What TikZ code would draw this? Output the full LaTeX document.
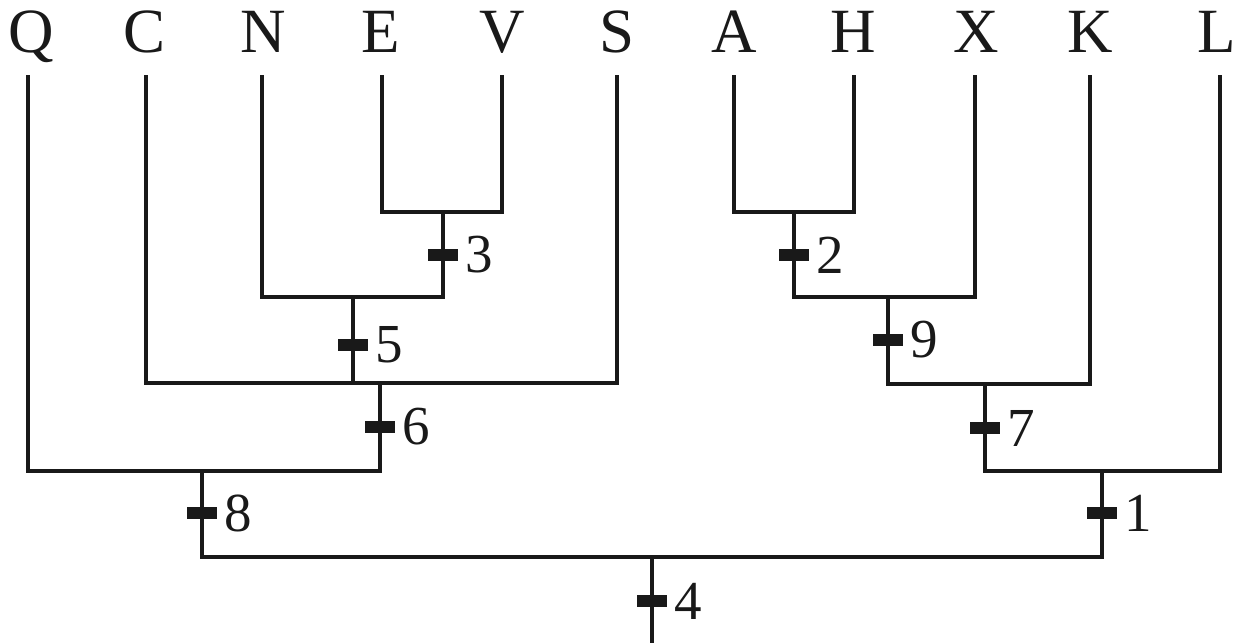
\documentclass[tikz,border=0pt]{standalone}
\usepackage{fontspec}
\setmainfont{Liberation Serif}
\begin{document}
\begin{tikzpicture}[x=1pt,y=-1pt,
  branch/.style={line width=4.5pt,line join=miter,draw=black!90},
  tickbar/.style={rectangle,fill=black!90,inner sep=0pt,minimum width=30pt,minimum height=12pt},
  leaflabel/.style={anchor=base,inner sep=0pt,text=black!90,font=\fontsize{63}{63}\selectfont},
  numlabel/.style={anchor=west,inner sep=0pt,text=black!90,font=\fontsize{55}{55}\selectfont}]
\useasboundingbox (0,0) rectangle (1242,643);
% leaves
\foreach \n/\x in {Q/28,C/146,N/262,E/382,V/502,S/617,A/734,H/854,X/975,K/1090,L/1220}{
  \coordinate (\n) at (\x,75);
}
\foreach \n/\x in {Q/31,C/145,N/263,E/381,V/502,S/617,A/734,H/853,X/976,K/1090,L/1217}{
  \node[leaflabel] (lab\n) at (\x,52) {\n};
}
% internal nodes
\coordinate (n3) at (443,212);
\coordinate (n5) at (353,297);
\coordinate (n6) at (380,383);
\coordinate (n8) at (202,471);
\coordinate (n2) at (794,212);
\coordinate (n9) at (888,297);
\coordinate (n7) at (985,384);
\coordinate (n1) at (1102,471);
\coordinate (n4) at (652,557);
\coordinate (root) at (652,643);
\begin{scope}[branch]
\draw (E) |- (n3) -| (V);
\draw (N) |- (n5) -| (n3);
\draw (C) |- (n6) -| (S);
\draw (n5) -- (n5 |- n6);
\draw (Q) |- (n8) -| (n6);
\draw (A) |- (n2) -| (H);
\draw (n2) |- (n9) -| (X);
\draw (n9) |- (n7) -| (K);
\draw (n7) |- (n1) -| (L);
\draw (n8) |- (n4) -| (n1);
\draw (n4) -- (root);
\end{scope}
% ticks and labels
\foreach \t/\x/\y in {3/443/255,5/353/345,6/380/427,8/202/513,2/794/255,9/888/340,7/985/428,1/1102/513,4/652/601}{
  \node[tickbar] (t\t) at (\x,\y) {};
  \node[numlabel] (l\t) at (\x+22,\y) {\t};
}
\end{tikzpicture}
\end{document}
